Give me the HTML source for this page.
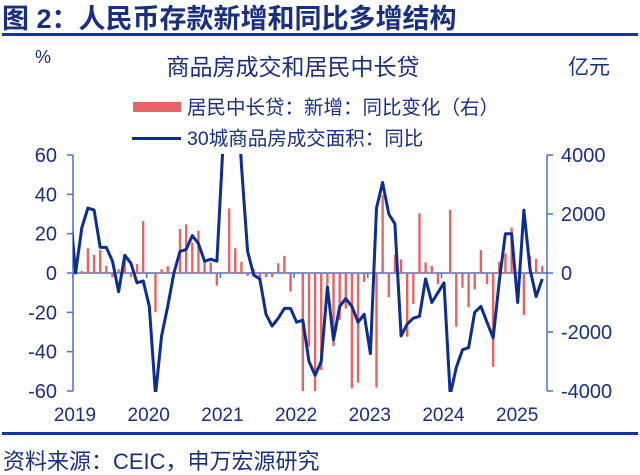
<!DOCTYPE html>
<html><head><meta charset="utf-8"><style>
html,body{margin:0;padding:0;background:#fff;width:640px;height:475px;overflow:hidden}
svg{display:block}
text{font-family:"Liberation Sans","Noto Sans CJK SC",sans-serif;fill:#1a2f80}
</style></head><body>
<svg width="640" height="475">
<text x="2" y="28" font-size="27" font-weight="bold" fill="#1a3a8a">图 2：人民币存款新增和同比多增结构</text>
<rect x="2" y="33" width="636" height="3" fill="#10379a"/>
<text x="35" y="63" font-size="18" fill="#333">%</text>
<text x="568" y="74" font-size="21" fill="#333">亿元</text>
<text x="293" y="75" font-size="23" text-anchor="middle">商品房成交和居民中长贷</text>
<rect x="133" y="102" width="48" height="10" fill="#e86464"/>
<text x="187" y="114" font-size="19.5">居民中长贷：新增：同比变化（右）</text>
<rect x="132" y="137" width="49" height="3" fill="#0d2e8f"/>
<text x="187" y="145" font-size="19.5">30城商品房成交面积：同比</text>
<g id="axes"></g>
<g id="bars"></g>
<g id="lineg"></g>
<rect x="2" y="432" width="636" height="3" fill="#10379a"/>
<text x="3" y="469" font-size="22">资料来源：CEIC，申万宏源研究</text>
</svg>
<script>
const years=["2019","2020","2021","2022","2023","2024","2025"];
const leftTicks=[60,40,20,0,-20,-40,-60];
const rightTicks=[4000,2000,0,-2000,-4000];
const lineVals=[35,0,23,33,32,13,13,6,-9.5,9,5,-5,-4,-17,-62,-32,-17,0,11,12,19,15,6,7,6,65,140,110,55,11,-1,-3,-21,-27,-23,-18,-18,-25,-24,-45,-52,-45,-7,-34,-17,-13,-17,-25,-21,-41,33,46,30,25,-32,-26,-23,-22,-3,-15,-10,-5,-62,-48,-39,-38,-20,-17,-25,-33,-4,20,20,-15,32,2,-12,-3];
const barVals=[0,0,70,840,610,780,240,-150,130,610,-140,300,1760,0,-1330,125,230,0,1490,1650,1030,1430,380,360,-430,0,2190,840,380,-100,130,-150,-140,-140,330,580,-630,0,-4070,-2500,-4070,-3290,-400,-2480,-1590,-1200,-3910,-3720,-300,0,-3880,2640,-820,610,460,-2160,-1050,2020,360,240,-380,0,2140,-1820,-500,-1160,-550,780,-380,-3180,380,660,1540,0,-1420,590,480,240];
const NS="http://www.w3.org/2000/svg";
const X0=69.5,DX=6.14,PL=73,PR=547,PT=155,PB=391,ZY=273;
const xs=i=>X0+DX*i;
const yl=v=>ZY-v*(PB-PT)/120;
const yr=v=>ZY-v*(PB-PT)/8000;
function mk(tag,attrs,parent){const e=document.createElementNS(NS,tag);for(const k in attrs)e.setAttribute(k,attrs[k]);parent.appendChild(e);return e;}
const ax=document.getElementById('axes');
const axc="#4a72c4";
let e=mk('line',{x1:PL,y1:PT,x2:PL,y2:PB,stroke:axc,'stroke-width':1.5},ax);


e=mk('line',{x1:PR,y1:PT,x2:PR,y2:PB,stroke:axc,'stroke-width':1.5},ax);


leftTicks.forEach(v=>{mk('line',{x1:PL-6,y1:yl(v),x2:PL,y2:yl(v),stroke:axc,'stroke-width':1.5},ax);
const t=mk('text',{x:57,y:yl(v)+7,'font-size':20,'text-anchor':'end'},ax);t.textContent=v;

});
rightTicks.forEach(v=>{mk('line',{x1:PR,y1:yr(v),x2:PR+6,y2:yr(v),stroke:axc,'stroke-width':1.5},ax);
const t=mk('text',{x:561,y:yr(v)+7,'font-size':20},ax);t.textContent=v;

});
years.forEach((y,k)=>{const x=PL+k*73.7;mk('line',{x1:x,y1:ZY,x2:x,y2:ZY+5,stroke:axc,'stroke-width':1.5},ax);
const t=mk('text',{x:x+2,y:421,'font-size':19,'text-anchor':'middle'},ax);t.textContent=y;

});
const bg=document.getElementById('bars');
barVals.forEach((v,i)=>{if(!v)return;let y=Math.max(PT,Math.min(PB,yr(v)));
const r=mk('rect',{x:xs(i)-1.2,y:Math.min(y,ZY),width:2.4,height:Math.abs(y-ZY),fill:'#e86464'},bg);

});
e=mk('line',{x1:PL,y1:ZY,x2:PR,y2:ZY,stroke:axc,'stroke-width':1.5},ax);


const lg=document.getElementById('lineg');
const cp=mk('clipPath',{id:'cp'},lg);mk('rect',{x:PL,y:PT-1,width:PR-PL,height:PB-PT+2},cp);
const p=mk('path',{d:lineVals.map((v,i)=>(i?'L':'M')+xs(i).toFixed(1)+','+yl(v).toFixed(1)).join(''),fill:'none',stroke:'#0d2e8f','stroke-width':3,'stroke-linejoin':'round','clip-path':'url(#cp)'},lg);


</script>
</body></html>
